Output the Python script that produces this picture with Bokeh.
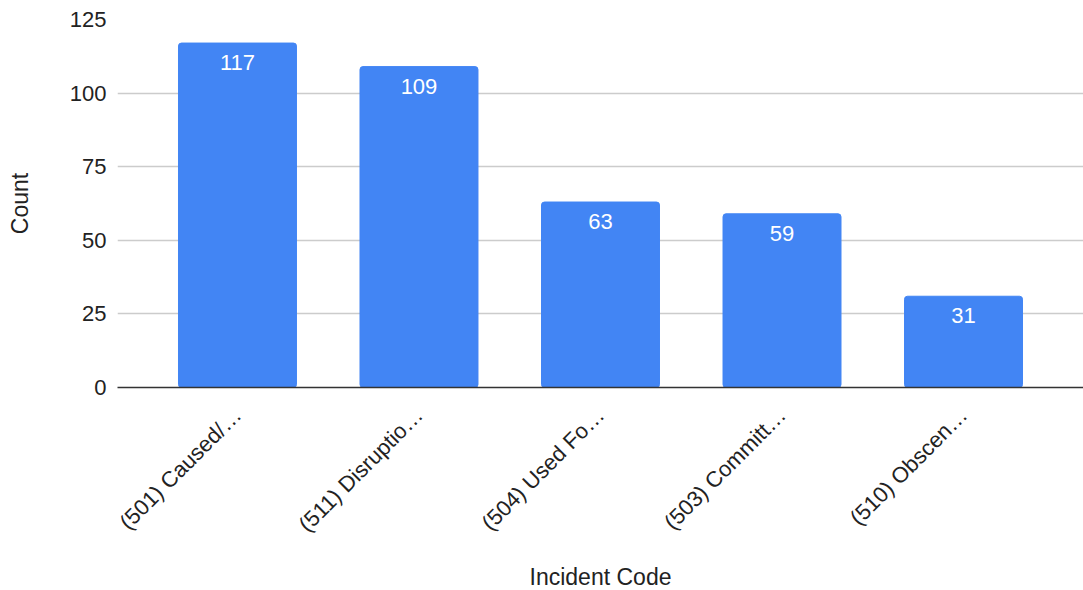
from math import pi

from bokeh.core.properties import value
from bokeh.embed import file_html
from bokeh.models import ColumnDataSource, FactorRange, FixedTicker, Range1d
from bokeh.plotting import figure
from bokeh.resources import INLINE

# Incident counts by code
codes = [
    "(501) Caused/\u2026",
    "(511) Disruptio\u2026",
    "(504) Used Fo\u2026",
    "(503) Committ\u2026",
    "(510) Obscen\u2026",
]
counts = [117, 109, 63, 59, 31]
y_ticks = [0, 25, 50, 75, 100, 125]

FONT = "Liberation Sans"
BAR_COLOR = "#4285F4"
TEXT_COLOR = "#222222"

src = ColumnDataSource(dict(code=codes, count=counts, label=[str(c) for c in counts]))

p = figure(
    x_range=FactorRange(factors=codes, range_padding=0.161,
                        range_padding_units="absolute"),
    y_range=Range1d(0, 125),
    frame_width=966,
    frame_height=368,
    min_border_left=117,
    min_border_right=0,
    min_border_top=19,
    min_border_bottom=8,
    output_backend="svg",
    toolbar_location=None,
)
p.outline_line_color = None
p.background_fill_color = "white"
p.border_fill_color = "white"

p.vbar(x="code", top="count", width=0.65, source=src, color=BAR_COLOR,
       border_radius=3)
p.text(x="code", y="count", text="label", source=src,
       text_color="white", text_font=value(FONT), text_font_size="22px",
       text_align="center", text_baseline="top", y_offset=12)

# y axis
p.yaxis.ticker = FixedTicker(ticks=y_ticks)
p.yaxis.axis_line_color = None
p.yaxis.major_tick_line_color = None
p.yaxis.minor_tick_line_color = None
p.yaxis.major_label_text_font = FONT
p.yaxis.major_label_text_font_size = "22px"
p.yaxis.major_label_text_color = TEXT_COLOR
p.yaxis.major_label_standoff = 5
p.yaxis.axis_label = "Count"
p.yaxis.axis_label_text_font = FONT
p.yaxis.axis_label_text_font_size = "23px"
p.yaxis.axis_label_text_font_style = "normal"
p.yaxis.axis_label_text_color = TEXT_COLOR
p.yaxis.axis_label_standoff = 34

# x axis
p.xaxis.axis_line_color = "#333333"
p.xaxis.axis_line_width = 1.5
p.xaxis.major_tick_line_color = None
p.xaxis.minor_tick_line_color = None
p.xaxis.major_label_orientation = pi / 4
p.xaxis.major_label_text_font = FONT
p.xaxis.major_label_text_font_size = "22px"
p.xaxis.major_label_text_color = TEXT_COLOR
p.xaxis.major_label_standoff = 18
p.xaxis.axis_label = "Incident Code"
p.xaxis.axis_label_text_font = FONT
p.xaxis.axis_label_text_font_size = "23px"
p.xaxis.axis_label_text_font_style = "normal"
p.xaxis.axis_label_text_color = TEXT_COLOR
p.xaxis.axis_label_standoff = 15

p.xgrid.grid_line_color = None
p.ygrid.grid_line_color = "#cccccc"
p.ygrid.grid_line_width = 1.5

open("out.html", "w").write(file_html(p, INLINE))
